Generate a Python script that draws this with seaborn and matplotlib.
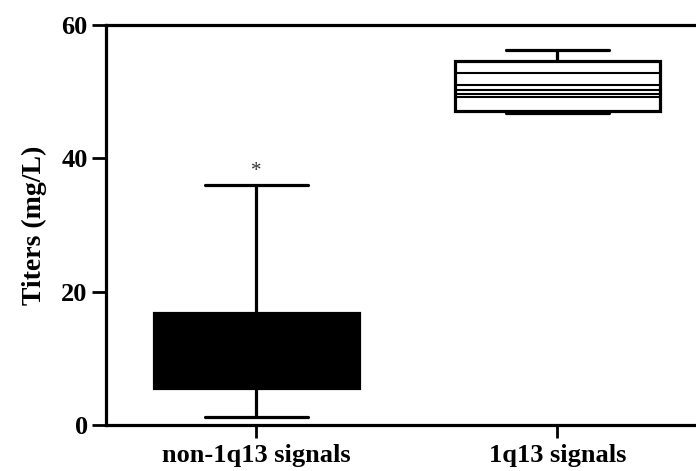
import matplotlib
matplotlib.use('Agg')
import matplotlib.pyplot as plt
import seaborn as sns
import pandas as pd

# ---- data ----
categories = ['non-1q13 signals', '1q13 signals']
group1_values = [1.25, 5.5, 10.0, 16.8, 36.05]   # min, Q1, median, Q3, max
group2_values = [46.8, 47.1, 50.3, 54.6, 56.2]   # min, Q1, median, Q3, max
group2_inner_lines = [52.8, 51.0, 49.7, 49.2]    # extra horizontal lines inside box 2
box_colors = ['black', 'white']
y_ticks = [0, 20, 40, 60]
asterisk_y = 36.6

df = pd.DataFrame({
    'group': [categories[0]] * len(group1_values) + [categories[1]] * len(group2_values),
    'titer': group1_values + group2_values,
})

sns.set_style('ticks')
plt.rcParams['font.family'] = ['Liberation Serif', 'DejaVu Serif']
plt.rcParams['font.weight'] = 'bold'
plt.rcParams['text.color'] = 'black'
plt.rcParams['axes.labelcolor'] = 'black'
plt.rcParams['xtick.color'] = 'black'
plt.rcParams['ytick.color'] = 'black'

fig = plt.figure(figsize=(6.96, 4.71), dpi=100)
ax = fig.add_axes([0.152, 0.0977, 0.848, 0.849])

box_width = 0.68
sns.boxplot(data=df, x='group', y='titer', hue='group', order=categories,
            hue_order=categories, palette=dict(zip(categories, box_colors)),
            legend=False, whis=(0, 100), width=box_width, linecolor='black',
            linewidth=2.3, ax=ax,
            medianprops=dict(linewidth=1.5, color='black'),
            boxprops=dict(linewidth=2.3, edgecolor='black'),
            whiskerprops=dict(linewidth=2.3),
            capprops=dict(linewidth=2.3))

# inner lines of second box
idx2 = categories.index('1q13 signals')
ax.hlines(group2_inner_lines, idx2 - box_width / 2, idx2 + box_width / 2,
          colors='black', linewidth=1.5, zorder=3)

# asterisk above first whisker
ax.text(0, asterisk_y, '*', ha='center', va='bottom', fontsize=15,
        color='#333333', fontweight='normal')

ax.set_ylim(0, 60)
ax.set_xlim(-0.5, 1.46)
ax.set_yticks(y_ticks)
ax.set_xlabel('')
ax.set_ylabel('Titers (mg/L)', fontsize=20, fontweight='bold', labelpad=10)
ax.tick_params(axis='y', labelsize=19, width=2, length=10, color='black', pad=3)
ax.tick_params(axis='x', labelsize=19, width=2, length=9, color='black', pad=5)
for lab in ax.get_xticklabels() + ax.get_yticklabels():
    lab.set_fontweight('bold')

for side in ['left', 'bottom', 'top']:
    ax.spines[side].set_linewidth(2.3)
    ax.spines[side].set_color('black')
ax.spines['right'].set_visible(False)

fig.savefig('out.png', dpi=100)
